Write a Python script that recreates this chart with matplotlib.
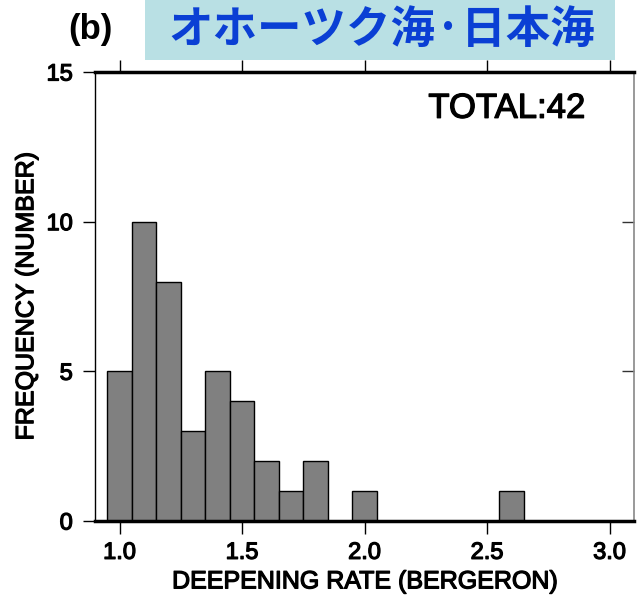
import matplotlib
matplotlib.use('Agg')
import matplotlib.pyplot as plt
import matplotlib.patheffects as pe
from matplotlib.patches import Rectangle

# histogram of deepening rate, bin width 0.1
bin_centers = [1.0, 1.1, 1.2, 1.3, 1.4, 1.5, 1.6, 1.7, 1.8, 1.9,
               2.0, 2.1, 2.2, 2.3, 2.4, 2.5, 2.6]
counts = [5, 10, 8, 3, 5, 4, 2, 1, 2, 0,
          1, 0, 0, 0, 0, 0, 1]
xticks = [1.0, 1.5, 2.0, 2.5, 3.0]
xticklabels = ['1.0', '1.5', '2.0', '2.5', '3.0']
yticks = [0, 5, 10, 15]
title = 'オホーツク海·日本海'
panel = '(b)'
total_text = 'TOTAL:42'
xlabel = 'DEEPENING RATE (BERGERON)'
ylabel = 'FREQUENCY (NUMBER)'

plt.rcParams['font.family'] = ['Liberation Sans', 'DejaVu Sans']

# slightly heavier than regular, like the original
heavy = [pe.withStroke(linewidth=0.9, foreground='black')]

W, H = 637, 599
fig = plt.figure(figsize=(W / 100, H / 100), dpi=100)
ax = fig.add_axes([95 / W, 1 - 521 / H, (634 - 95) / W, (521 - 72) / H])

ax.bar(bin_centers, counts, width=0.1, color='#808080',
       edgecolor='black', linewidth=1.0, zorder=2)

ax.set_xlim(0.9, 3.1)
ax.set_ylim(0, 15)
ax.set_xticks(xticks)
ax.set_xticklabels(xticklabels)
ax.set_yticks(yticks)

ax.tick_params(axis='both', labelsize=17, width=1.0, length=9, pad=6)
ax.tick_params(axis='x', top=True, direction='out')
ax.tick_params(axis='y', right=False, direction='out', pad=7)
for lab in ax.get_xticklabels() + ax.get_yticklabels():
    lab.set_path_effects(heavy)

# right axis: inward ticks, grey spine
ax2 = ax.secondary_yaxis('right')
ax2.set_yticks(yticks)
ax2.tick_params(direction='in', length=9, width=1.0, color='#333333',
                labelright=False)
ax2.spines['right'].set_color('#888888')
ax2.spines['right'].set_linewidth(1.2)
ax.spines['right'].set_visible(False)

ax.spines['top'].set_linewidth(2.5)
ax.spines['bottom'].set_linewidth(2.5)
ax.spines['left'].set_linewidth(1.0)

ax.set_xlabel(xlabel, fontsize=18, labelpad=4, path_effects=heavy)
ax.set_ylabel(ylabel, fontsize=18, labelpad=6, path_effects=heavy)

ax.text(0.909, 0.898, total_text, transform=ax.transAxes, fontsize=25,
        ha='right', va='baseline', path_effects=heavy)

# title box
fig.patches.append(Rectangle((145 / W, 1 - 60 / H), (615 - 145) / W, 60 / H,
                             transform=fig.transFigure, facecolor='#b9e0e4',
                             edgecolor='none'))
fig.text(382 / W, 1 - 30 / H, title, fontsize=32, fontweight='bold',
         color='#0a3fd4', ha='center', va='center',
         family=['Noto Sans CJK JP', 'DejaVu Sans'])
fig.text(90 / W, 1 - 29 / H, panel, fontsize=25, fontweight='bold',
         ha='center', va='center')

fig.savefig('out.png', dpi=100)
